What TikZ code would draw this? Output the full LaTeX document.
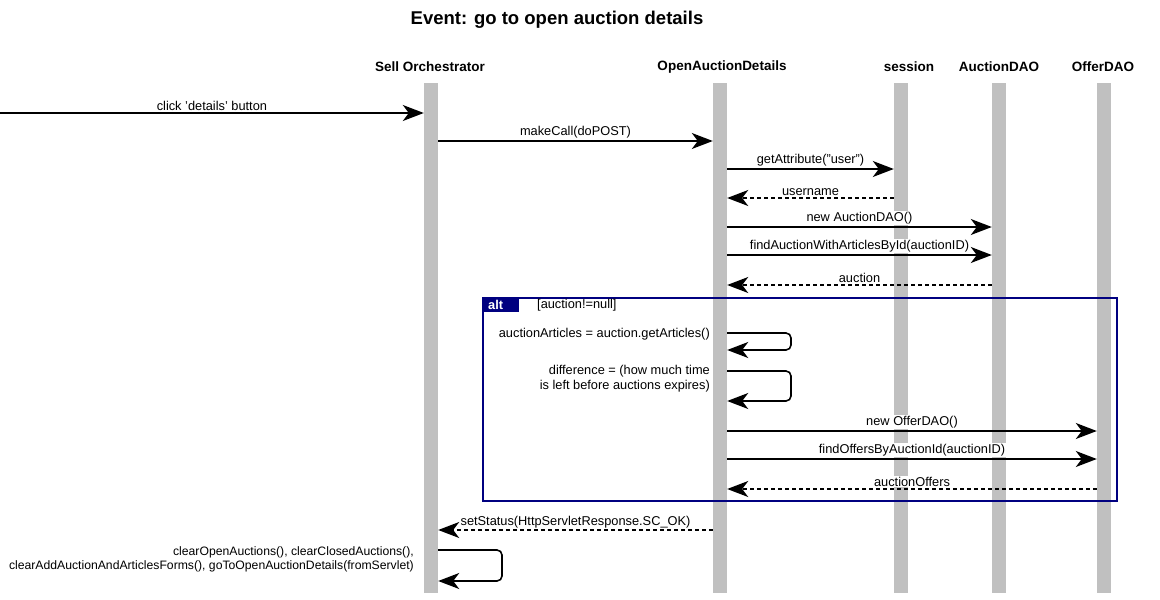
\documentclass[tikz,border=0pt]{standalone}
\usepackage{fontspec}
\setmainfont{Liberation Sans}
\usetikzlibrary{arrows.meta}
\definecolor{lifegray}{HTML}{C0C0C0}
\definecolor{altblue}{HTML}{000080}
\begin{document}
\begin{tikzpicture}[x=1pt,y=-1pt,
  lifeline/.style={fill=lifegray,draw=none,minimum width=14pt,minimum height=510pt,inner sep=0pt},
  hdr/.style={font=\bfseries\fontsize{13.5}{15}\selectfont,inner sep=0pt},
  msg/.style={line width=1.6pt,-{Stealth[length=21pt,width=16pt,inset=6pt]}},
  ret/.style={msg,dash pattern=on 4pt off 3pt},
  lbl/.style={font=\fontsize{12.8}{15}\selectfont,fill=white,inner sep=1pt},
  note/.style={font=\fontsize{12.8}{15}\selectfont,inner sep=0pt,align=right,anchor=east},
  selfcall/.style={msg,rounded corners=5pt}
]
\useasboundingbox (0,0) rectangle (1160,600);

% title and headers
\node[font=\bfseries\fontsize{18.5}{21}\selectfont] (title) at (557,20) {Event: go to open auction details};
\node[hdr] (hsell) at (430,67) {Sell Orchestrator};
\node[hdr] (hopen) at (722,67) {OpenAuctionDetails};
\node[hdr] (hsess) at (909,67) {session};
\node[hdr] (hauc) at (999,67) {AuctionDAO};
\node[hdr] (hoff) at (1103,67) {OfferDAO};

% lifelines
\node[lifeline] (lsell) at (431,338) {};
\node[lifeline] (lopen) at (720,338) {};
\node[lifeline] (lsess) at (901,338) {};
\node[lifeline] (lauc) at (999,338) {};
\node[lifeline] (loff) at (1104,338) {};

% alt fragment
\node[draw=altblue,line width=2pt,minimum width=634pt,minimum height=203pt,anchor=north west,inner sep=0pt] (alt) at (482,297) {};
\node[fill=altblue,text=white,font=\bfseries\fontsize{12.8}{14}\selectfont,anchor=north west,
      inner xsep=6pt,inner ysep=0pt,text width=25pt,minimum height=15pt,align=left] (alttab) at (alt.north west) {alt};
\node[font=\fontsize{12.8}{15}\selectfont,anchor=west,inner sep=0pt] (guard) at (537,305) {[auction!=null]};

% messages
\coordinate (start) at (0,113);
\draw[msg] (start) -- (lsell.west |- start) node[lbl,midway,above=1pt] {click 'details' button};
\draw[msg] (lsell.east |- 0,141) -- (lopen.west |- 0,141) node[lbl,midway,above=1pt] {makeCall(doPOST)};
\draw[msg] (lopen.east |- 0,169) -- (lsess.west |- 0,169) node[lbl,midway,above=1pt] {getAttribute("user")};
\draw[ret] (lsess.west |- 0,198) -- (lopen.east |- 0,198) node[lbl,midway,above=1pt] {username};
\draw[msg] (lopen.east |- 0,227) -- (lauc.west |- 0,227) node[lbl,midway,above=1pt] {new AuctionDAO()};
\draw[msg] (lopen.east |- 0,255) -- (lauc.west |- 0,255) node[lbl,midway,above=1pt] {findAuctionWithArticlesById(auctionID)};
\draw[ret] (lauc.west |- 0,285) -- (lopen.east |- 0,285) node[lbl,midway,above=1pt] {auction};

\draw[selfcall] (lopen.east |- 0,333) -- (791,333) -- (791,350) -- (lopen.east |- 0,350);
\node[note] (n1) at (710,334) {auctionArticles = auction.getArticles()};
\draw[selfcall] (lopen.east |- 0,371) -- (791,371) -- (791,401) -- (lopen.east |- 0,401);
\node[note] (n2) at (710,379) {difference = (how much time\\is left before auctions expires)};

\draw[msg] (lopen.east |- 0,431) -- (loff.west |- 0,431) node[lbl,midway,above=1pt] {new OfferDAO()};
\draw[msg] (lopen.east |- 0,459) -- (loff.west |- 0,459) node[lbl,midway,above=1pt] {findOffersByAuctionId(auctionID)};
\draw[ret] (loff.west |- 0,489) -- (lopen.east |- 0,489) node[lbl,midway,above=1pt] {auctionOffers};

\draw[ret] (lopen.west |- 0,530) -- (lsell.east |- 0,530) node[lbl,midway,above=0pt,fill=none] {setStatus(HttpServletResponse.SC\_OK)};

\draw[selfcall] (lsell.east |- 0,550) -- (502,550) -- (502,581) -- (lsell.east |- 0,581);
\node[note,font=\fontsize{12.2}{14}\selectfont] (n3) at (414,559) {clearOpenAuctions(), clearClosedAuctions(),\\clearAddAuctionAndArticlesForms(), goToOpenAuctionDetails(fromServlet)};
\end{tikzpicture}
\end{document}
